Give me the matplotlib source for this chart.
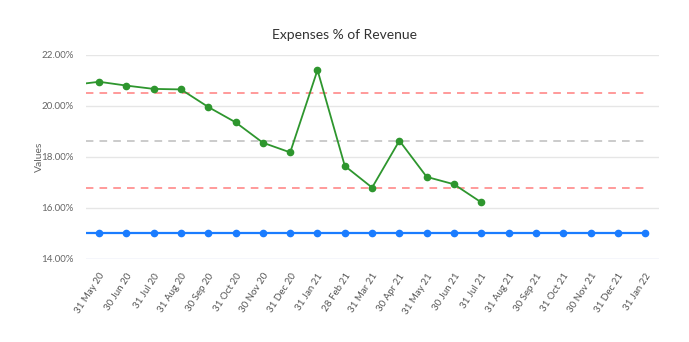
import matplotlib
matplotlib.use("Agg")
from matplotlib import pyplot as plt

# categories (first one sits just off the left edge of the chart)
dates = ['30 Apr 20', '31 May 20', '30 Jun 20', '31 Jul 20', '31 Aug 20', '30 Sep 20',
         '31 Oct 20', '30 Nov 20', '31 Dec 20', '31 Jan 21', '28 Feb 21', '31 Mar 21',
         '30 Apr 21', '31 May 21', '30 Jun 21', '31 Jul 21', '31 Aug 21', '30 Sep 21',
         '31 Oct 21', '30 Nov 21', '31 Dec 21', '31 Jan 22']
expenses = [20.82, 20.95, 20.80, 20.67, 20.65, 19.96, 19.36, 18.56, 18.18, 21.41,
            17.65, 16.80, 18.64, 17.22, 16.93, 16.22]
target = [15.0] * len(dates)
upper_limit = 20.5
mean_line = 18.64
lower_limit = 16.78
y_ticks = [14, 16, 18, 20, 22]

plt.rcParams['font.family'] = ['Lato', 'DejaVu Sans']

fig = plt.figure(figsize=(6.89, 3.42), dpi=100)
ax = fig.add_axes([0.1248, 0.2427, 0.8317, 0.5965])

x = list(range(-1, len(dates) - 1))
x_exp = x[:len(expenses)]

ax.set_xlim(-0.48, 20.51)
ax.set_ylim(14, 22)

for yt in y_ticks:
    ax.axhline(yt, color='#e6e6e6' if yt != 14 else '#ccd6eb', linewidth=1, zorder=0)

ax.plot(x, [upper_limit] * len(x), color='#ff7f7f', linestyle=(0, (5, 4)), linewidth=1.1, zorder=2)
ax.plot(x, [mean_line] * len(x), color='#bdbdbd', linestyle=(0, (5, 4)), linewidth=1.1, zorder=2)
ax.plot(x, [lower_limit] * len(x), color='#ff7f7f', linestyle=(0, (5, 4)), linewidth=1.1, zorder=2)

ax.plot(x, target, color='#1a7cff', linewidth=1.6, marker='o', markersize=4.5, zorder=3)
ax.plot(x_exp, expenses, color='#2e962e', linewidth=1.3, marker='o', markersize=4.5, zorder=4)

ax.set_yticks(y_ticks)
ax.set_yticklabels([f'{v:.2f}%' for v in y_ticks], fontsize=7, color='#666666')
ax.set_xticks(x[1:])
ax.set_xticklabels(dates[1:], rotation=57, ha='right', rotation_mode='anchor',
                   fontsize=7, color='#555555')
ax.tick_params(axis='y', length=0, pad=9)
ax.tick_params(axis='x', length=0, pad=9)
for s in ax.spines.values():
    s.set_visible(False)

ax.set_ylabel('Values', fontsize=7.5, color='#666666')
ax.yaxis.set_label_coords(-0.074, 0.5)
fig.text(0.5, 0.897, 'Expenses % of Revenue', ha='center', va='center',
         fontsize=10, color='#333333')

fig.savefig('out.png', dpi=100)
